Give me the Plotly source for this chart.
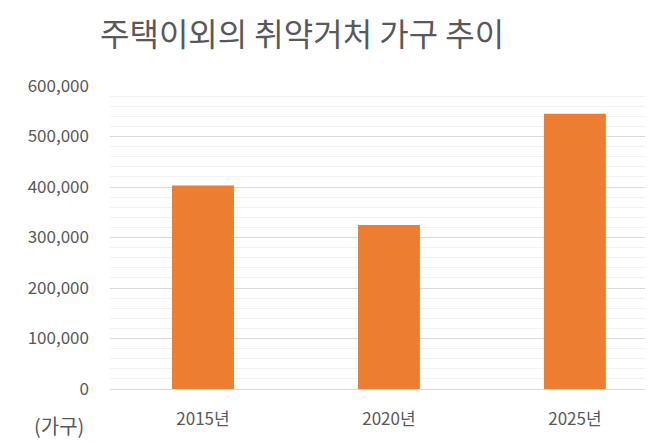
import plotly.graph_objects as go

years = ["2015년", "2020년", "2025년"]
households = [403000, 325000, 545000]
y_ticks = [0, 100000, 200000, 300000, 400000, 500000, 600000]

FONT = "Noto Sans CJK KR"
TEXT = "#595959"

# the page body keeps an 8px margin, so the figure is sized to fit inside it
W, H = 645, 435
L, T, B = 102, 78, 54

fig = go.Figure()
fig.add_trace(
    go.Bar(
        x=list(range(len(years))),
        y=households,
        marker=dict(color="#ED7D31", line=dict(width=0)),
        hoverinfo="skip",
    )
)

fig.update_layout(
    width=W,
    height=H,
    margin=dict(l=L, r=0, t=T, b=B),
    paper_bgcolor="white",
    plot_bgcolor="white",
    bargap=0.667,
    showlegend=False,
    font=dict(family=FONT, color=TEXT),
    title=dict(
        text="주택이외의 취약거처 가구 추이",
        x=92 / W,
        xanchor="left",
        y=1 - 27 / H,
        yanchor="middle",
        font=dict(family=FONT, size=32, color=TEXT),
    ),
    xaxis=dict(
        range=[-0.5, 2.42],
        tickvals=list(range(len(years))),
        ticktext=years,
        showgrid=False,
        showline=False,
        zeroline=False,
        ticks="",
        ticklabelstandoff=18,
        tickfont=dict(family=FONT, size=17, color=TEXT),
    ),
    yaxis=dict(
        range=[0, 600000],
        tickvals=y_ticks,
        tickformat=",d",
        showgrid=True,
        gridcolor="#D9D9D9",
        gridwidth=1,
        zeroline=True,
        zerolinecolor="#D9D9D9",
        zerolinewidth=1,
        showline=False,
        ticks="",
        ticklabelstandoff=20,
        tickfont=dict(family=FONT, size=17, color=TEXT),
        minor=dict(dtick=20000, showgrid=True, gridcolor="#F2F2F2", gridwidth=1),
    ),
)

fig.add_annotation(
    text="(가구)",
    xref="paper",
    yref="paper",
    x=-78 / (W - L),
    y=-36 / (H - T - B),
    xanchor="left",
    yanchor="middle",
    showarrow=False,
    font=dict(family=FONT, size=20, color=TEXT),
)

fig.write_html("out.html")
